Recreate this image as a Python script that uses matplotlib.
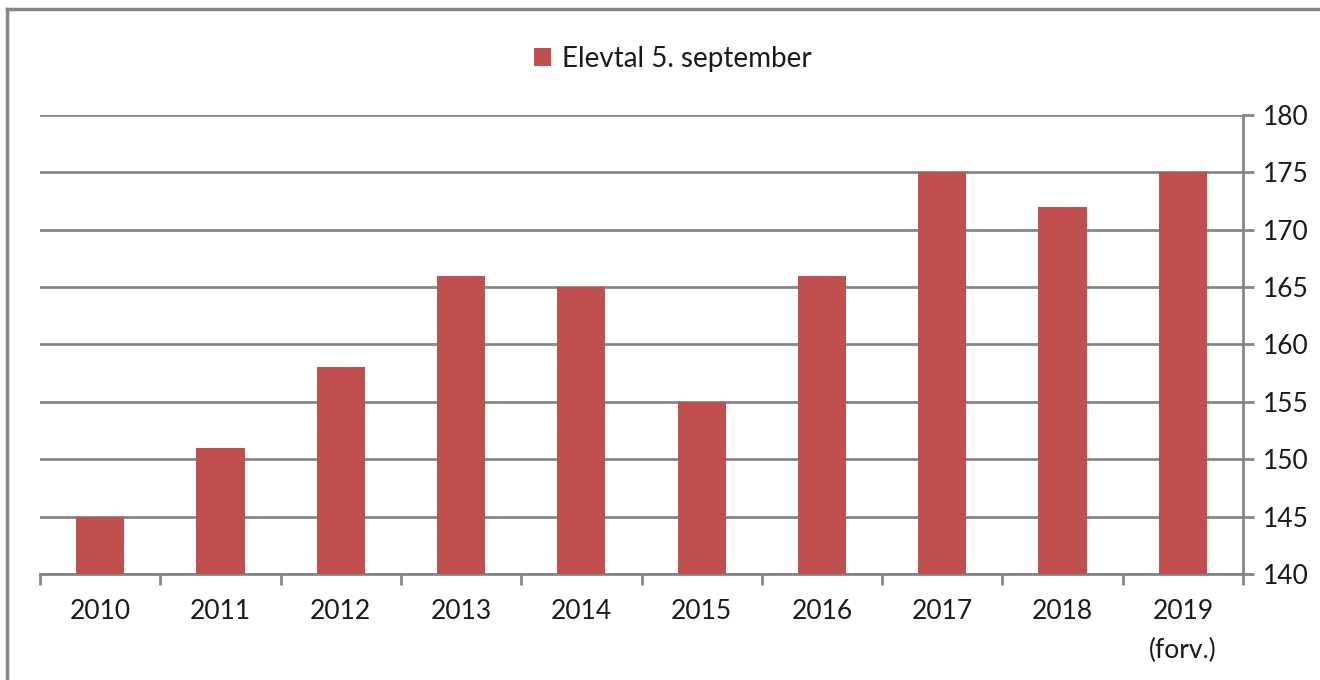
import matplotlib.pyplot as plt
from matplotlib.lines import Line2D
from numpy import arange

years = ["2010", "2011", "2012", "2013", "2014", "2015", "2016", "2017", "2018", "2019\n(forv.)"]
elevtal = [145, 151, 158, 166, 165, 155, 166, 175, 172, 175]
y_ticks = [140, 145, 150, 155, 160, 165, 170, 175, 180]

bar_color = "#C0504D"
line_color = "#868686"

plt.rcParams['font.family'] = ['Lato', 'DejaVu Sans']

fig = plt.figure(figsize=(13.2, 6.8), dpi=100)
ax = fig.add_axes([40 / 1320, 1 - 574 / 680, 1203 / 1320, 459 / 680])

x = arange(len(years))
ax.bar(x, [v - 140 for v in elevtal], 0.4, bottom=140, color=bar_color,
       label="Elevtal 5. september", zorder=3)

ax.set_xlim(-0.5, len(years) - 0.5)
ax.set_ylim(140, 180)

# y axis on the right
ax.yaxis.tick_right()
ax.set_yticks(y_ticks)
ax.grid(True, axis="y", color=line_color, linewidth=2, zorder=0)
ax.tick_params(axis="y", length=8, width=2, color=line_color, labelsize=19, pad=6,
               labelcolor="#1a1a1a")

# category labels centred, tick marks between categories
ax.set_xticks(x)
ax.set_xticklabels(years, linespacing=1.7)
ax.set_xticks(arange(-0.5, len(years)), minor=True)
ax.tick_params(axis="x", which="major", length=0, labelsize=19, pad=18,
               labelcolor="#1a1a1a")
ax.tick_params(axis="x", which="minor", length=8, width=2, color=line_color)

for side in ["top", "left"]:
    ax.spines[side].set_visible(False)
for side in ["right", "bottom"]:
    ax.spines[side].set_color(line_color)
    ax.spines[side].set_linewidth(2)

leg = ax.legend(loc="upper center", bbox_to_anchor=(0.526, 1.205), frameon=False,
                fontsize=20, handlelength=0.6, handleheight=0.6, handletextpad=0.4)
for t in leg.get_texts():
    t.set_color("#1a1a1a")

# outer chart border (only left and top visible in the crop)
fig.add_artist(Line2D([7 / 1320, 7 / 1320], [0, 1 - 9 / 680], color=line_color, linewidth=2.5))
fig.add_artist(Line2D([7 / 1320, 1], [1 - 9 / 680, 1 - 9 / 680], color=line_color, linewidth=2.5))

fig.savefig("out.png", dpi=100)
